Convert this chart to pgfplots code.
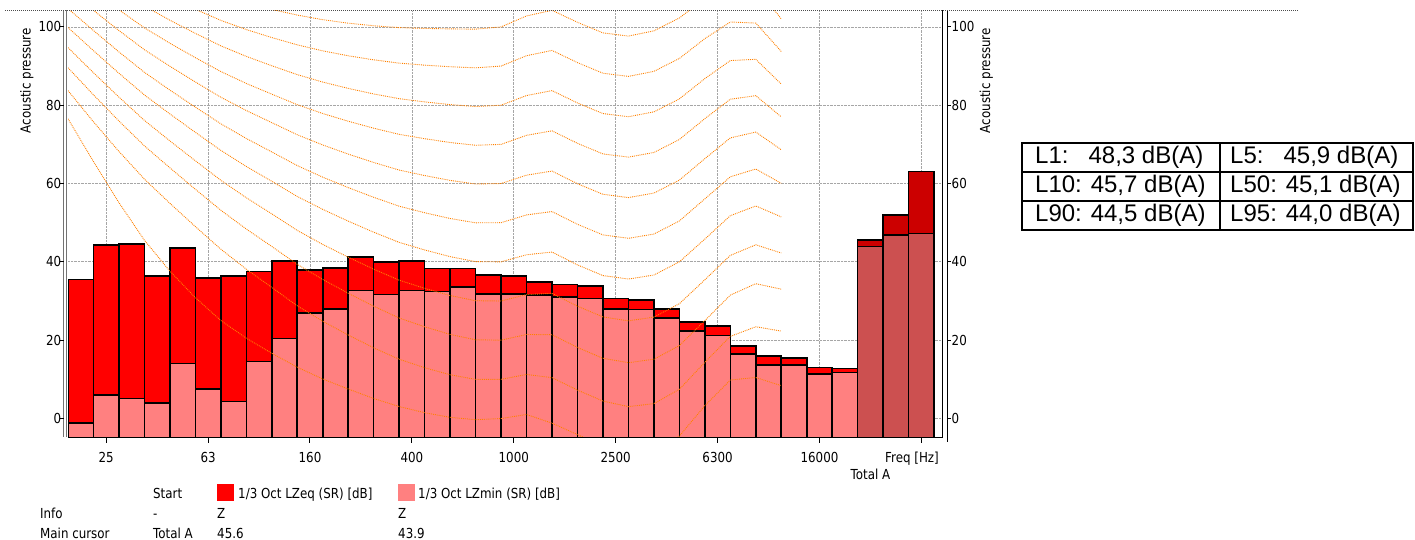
\documentclass[border=0pt]{standalone}
\usepackage{fontspec}
\setmainfont{DejaVu Sans}[FakeStretch=0.86]
\newfontfamily\arialf{Liberation Sans}
\usepackage{pgfplots}
\usepackage{pgfplotstable}
\pgfplotsset{compat=1.18}

\definecolor{eqred}{RGB}{255,0,0}
\definecolor{minpink}{RGB}{255,128,128}
\definecolor{toteq}{RGB}{204,0,0}
\definecolor{totmin}{RGB}{204,80,80}
\definecolor{isoor}{RGB}{255,128,0}
\newcommand\chartfont{\fontsize{13.8}{16}\selectfont}

% 1/3 octave bands 20 Hz ... 20 kHz (index 0..30): LZeq, LZmin
\pgfplotstableread{
idx eq min
0 35.5 -1.1
1 44.3 6.0
2 44.6 5.1
3 36.4 4.0
4 43.6 14.1
5 35.9 7.5
6 36.4 4.3
7 37.5 14.6
8 40.2 20.4
9 37.9 26.9
10 38.5 28.0
11 41.3 32.7
12 39.9 31.7
13 40.2 32.7
14 38.3 32.4
15 38.3 33.6
16 36.7 31.8
17 36.4 31.8
18 34.9 31.5
19 34.2 31.0
20 33.9 30.7
21 30.7 28.0
22 30.2 27.8
23 28.0 25.6
24 24.7 22.3
25 23.6 21.2
26 18.5 16.5
27 16.0 13.6
28 15.5 13.6
29 13.0 11.4
30 12.8 11.7
}\bands

% totals
\pgfplotstableread{
idx eq min
31 45.6 43.9
32 52.0 46.8
33 63.1 47.3
}\totals

% equal-loudness contours (0..100 phon), 20 Hz ... 12.5 kHz
\pgfplotstableread{
x p0 p10 p20 p30 p40 p50 p60 p70 p80 p90 p100
-0.5 76.55 83.75 89.58 94.72 99.85 104.68 109.51 114.25 118.99 123.70 128.41
0.5 65.62 75.76 82.65 88.30 93.94 99.09 104.23 109.23 114.23 119.19 124.15
1.5 55.12 68.21 75.98 82.08 88.17 93.63 99.08 104.37 109.65 114.88 120.11
2.5 45.53 61.14 69.62 76.13 82.63 88.41 94.18 99.76 105.34 110.86 116.38
3.5 37.63 54.96 64.02 70.90 77.78 83.87 89.96 95.84 101.72 107.54 113.35
4.5 30.86 49.01 58.55 65.82 73.08 79.51 85.94 92.15 98.36 104.51 110.65
5.5 25.02 43.24 53.19 60.84 68.48 75.27 82.05 88.61 95.17 101.67 108.16
6.5 20.51 38.13 48.38 56.38 64.37 71.51 78.65 85.57 92.48 99.33 106.17
7.5 16.65 33.48 43.94 52.27 60.59 68.08 75.56 82.83 90.09 97.29 104.48
8.5 13.12 28.77 39.37 48.04 56.70 64.59 72.47 80.15 87.82 95.43 103.03
9.5 10.09 24.84 35.51 44.46 53.41 61.64 69.86 77.89 85.92 93.89 101.85
10.5 7.54 21.33 31.99 41.20 50.40 58.97 67.53 75.92 84.31 92.64 100.97
11.5 5.11 18.05 28.69 38.14 47.58 56.49 65.39 74.14 82.89 91.60 100.30
12.5 3.06 15.14 25.67 35.33 44.98 54.22 63.45 72.57 81.68 90.76 99.83
13.5 1.48 12.98 23.43 33.24 43.05 52.55 62.05 71.46 80.86 90.24 99.62
14.5 0.30 11.18 21.48 31.41 41.34 51.08 60.81 70.49 80.17 89.84 99.50
15.5 -0.30 9.99 20.10 30.08 40.06 49.98 59.89 69.78 79.67 89.56 99.44
16.5 -0.01 10.00 20.01 30.01 40.01 50.01 60.01 70.01 80.01 90.01 100.01
17.5 1.03 11.26 21.46 31.64 41.82 51.99 62.15 72.32 82.48 92.65 102.81
18.5 -1.19 10.43 21.40 31.96 42.51 52.85 63.19 73.47 83.74 94.00 104.25
19.5 -4.11 7.27 18.15 28.69 39.23 49.60 59.96 70.28 80.59 90.89 101.18
20.5 -7.05 4.45 15.38 25.95 36.51 46.89 57.26 67.57 77.88 88.18 98.48
21.5 -9.03 3.04 14.26 24.94 35.61 46.02 56.42 66.75 77.07 87.37 97.67
22.5 -8.49 3.80 15.14 25.90 36.65 47.11 57.57 67.94 78.31 88.66 99.00
23.5 -4.48 7.46 18.63 29.32 40.01 50.45 60.89 71.26 81.62 91.96 102.30
24.5 3.28 14.35 25.02 35.43 45.83 56.10 66.36 76.59 86.81 97.02 107.23
25.5 9.83 20.98 31.52 41.66 51.80 61.73 71.66 81.54 91.41 101.26 111.11
26.5 10.48 23.43 34.43 44.36 54.28 63.72 73.16 82.45 91.74 100.99 110.23
27.5 8.38 22.33 33.04 42.27 51.49 60.06 68.63 77.02 85.41 93.74 102.07
}\iso

\pgfplotsset{
  eqbar/.style={fill=eqred, draw=black, line width=1.6pt, forget plot},
  minbar/.style={fill=minpink, draw=black, line width=1.6pt, forget plot},
  toteqbar/.style={fill=toteq, draw=black, line width=1.6pt, forget plot},
  totminbar/.style={fill=totmin, draw=black, line width=1.6pt, forget plot},
}

% one bar from a table row: #1 table, #2 row, #3 column, #4 style
\newcommand\drawbar[4]{%
  \pgfplotstablegetelem{#2}{idx}\of#1%
  \pgfmathsetmacro\xa{\pgfplotsretval-0.5}%
  \pgfmathsetmacro\xb{\pgfplotsretval+0.5}%
  \pgfplotstablegetelem{#2}{#3}\of#1%
  \edef\tmp{\noexpand\addplot[#4] coordinates {(\xa,-20) (\xa,\pgfplotsretval) (\xb,\pgfplotsretval) (\xb,-20)};}%
  \tmp}

\begin{document}
\begin{tikzpicture}[x=1pt,y=1pt]
\useasboundingbox (0,0) rectangle (1415,539);

\begin{axis}[
  at={(68pt,101.5pt)}, anchor=south west,
  width=874pt, height=427pt, scale only axis,
  xmin=-0.5, xmax=33.81, ymin=-4.85, ymax=104.2,
  axis line style={draw=none}, tick style={draw=none},
  tick pos=left,
  xtick={1,5,9,13,17,21,25,29,33},
  xticklabels={25,63,160,400,1000,2500,6300,16000,{}},
  ytick={0,20,40,60,80,100},
  grid=major,
  major grid style={black!35, densely dotted, line width=0.8pt},
  /pgf/number format/assume math mode=true,
  ticklabel style={font=\chartfont},
  xticklabel style={anchor=base, inner sep=0pt, yshift=-24.5pt},
  yticklabel style={anchor=east, inner sep=0pt, xshift=-6.5pt},
]
\pgfplotsinvokeforeach{0,...,30}{\drawbar{\bands}{#1}{eq}{eqbar}}
\pgfplotsinvokeforeach{0,...,30}{\drawbar{\bands}{#1}{min}{minbar}}
\pgfplotsinvokeforeach{0,1,2}{\drawbar{\totals}{#1}{eq}{toteqbar}}
\pgfplotsinvokeforeach{0,1,2}{\drawbar{\totals}{#1}{min}{totminbar}}
\pgfplotsinvokeforeach{0,10,...,100}{%
  \addplot[isoor, densely dotted, line width=0.9pt, forget plot] table[x=x, y=p#1] {\iso};}
\end{axis}

% right-hand tick labels
\begin{axis}[
  at={(68pt,101.5pt)}, anchor=south west,
  width=874pt, height=427pt, scale only axis,
  xmin=-0.5, xmax=33.81, ymin=-4.85, ymax=104.2,
  axis line style={draw=none}, tick style={draw=none},
  xtick=\empty, ytick={0,20,40,60,80,100},
  yticklabel pos=right,
  /pgf/number format/assume math mode=true,
  yticklabel style={anchor=west, inner sep=0pt, xshift=9.5pt, font=\chartfont},
]
\end{axis}

% axis frame lines and ticks
\draw[black!55, line width=0.9pt] (63.9,528.5)--(63.9,102) (66.1,528.5)--(66.1,102);
\draw[black, line width=1pt] (68,101.3)--(943,101.3);
\draw[black, line width=1pt] (942.3,528.5)--(942.3,101.3);
\draw[black, line width=1pt] (947.7,528.5)--(947.7,97);
\draw[black!70, densely dotted, line width=1pt] (5,528.5)--(1298,528.5);
\foreach \i in {1,5,...,33} {\pgfmathsetmacro\xx{68+(\i+0.5)*25.473}
  \draw[black, line width=1pt] (\xx,101.3)--(\xx,96.5);}
\foreach \v in {0,20,...,100} {\pgfmathsetmacro\yy{101.5+(\v+4.85)*3.9156}
  \draw[black, line width=1pt] (60,\yy)--(63.9,\yy);
  \draw[black, line width=1pt] (947.7,\yy)--(951,\yy);}

% axis titles
\node[rotate=90, anchor=base east, inner sep=0pt, font=\chartfont] at (30.7,511) {Acoustic pressure};
\node[rotate=90, anchor=base east, inner sep=0pt, font=\chartfont] at (990,511) {Acoustic pressure};
\node[anchor=base east, inner sep=0pt, font=\chartfont] at (939,77) {Freq [Hz]};
\node[anchor=base, inner sep=0pt, font=\chartfont] at (870.5,60) {Total A};

% info panel / legend
\fill[eqred] (217,38) rectangle (234,55);
\fill[minpink] (398,38) rectangle (415,55);
\begin{scope}[every node/.style={anchor=base west, inner sep=0pt, font=\chartfont}]
\node at (153,41) {Start};
\node at (238,41) {1/3 Oct LZeq (SR) [dB]};
\node at (418,41) {1/3 Oct LZmin (SR) [dB]};
\node at (40,20.5) {Info};
\node at (153,20.5) {-};
\node at (217,20.5) {Z};
\node at (398,20.5) {Z};
\node at (40,0.8) {Main cursor};
\node at (153,0.8) {Total A};
\node at (217,0.8) {45.6};
\node at (398,0.8) {43.9};
\end{scope}

% statistics table
\draw[line width=1.5pt] (1022,309) rectangle (1413,396);
\draw[line width=1.5pt] (1022,367)--(1413,367) (1022,338)--(1413,338) (1220,309)--(1220,396);
\begin{scope}[every node/.style={anchor=west, inner sep=0pt, font=\arialf\fontsize{24}{28}\selectfont}]
\node at (1035,381.5) {L1:\hphantom{0} 48,3 dB(A)};
\node at (1230,381.5) {L5:\hphantom{0} 45,9 dB(A)};
\node at (1035,352.5) {L10: 45,7 dB(A)};
\node at (1230,352.5) {L50: 45,1 dB(A)};
\node at (1035,323.5) {L90: 44,5 dB(A)};
\node at (1230,323.5) {L95: 44,0 dB(A)};
\end{scope}
\end{tikzpicture}
\end{document}
